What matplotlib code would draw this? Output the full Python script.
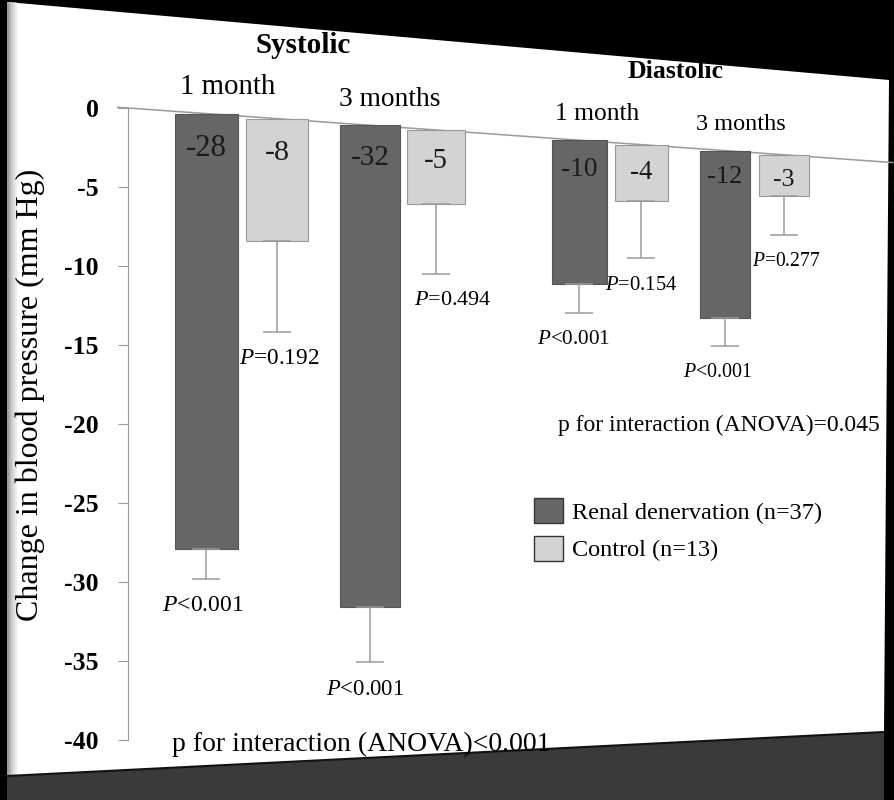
import matplotlib
matplotlib.use("Agg")
import matplotlib.pyplot as plt
from matplotlib.patches import Polygon, Patch
import numpy as np

# ---- data ----
groups = ["1 month", "3 months", "1 month", "3 months"]
sections = ["Systolic", "Diastolic"]
renal = [-28, -32, -10, -12]
renal_err = [1.9, 3.7, 2.0, 2.0]
control = [-8, -5, -4, -3]
control_err = [5.9, 4.7, 4.0, 2.8]
renal_p = ["$P$<0.001", "$P$<0.001", "$P$<0.001", "$P$<0.001"]
control_p = ["$P$=0.192", "$P$=0.494", "$P$=0.154", "$P$=0.277"]
renal_labels = ["-28", "-32", "-10", "-12"]
control_labels = ["-8", "-5", "-4", "-3"]
interaction = ["p for interaction (ANOVA)<0.001", "p for interaction (ANOVA)=0.045"]
legend_labels = ["Renal denervation (n=37)", "Control (n=13)"]
yticks = [0, -5, -10, -15, -20, -25, -30, -35, -40]

plt.rcParams['font.family'] = ['Liberation Serif', 'DejaVu Serif']
plt.rcParams['mathtext.fontset'] = 'custom'
plt.rcParams['mathtext.it'] = 'Liberation Serif:italic'
plt.rcParams['mathtext.rm'] = 'Liberation Serif'

W, H = 895, 800
fig = plt.figure(figsize=(W / 100, H / 100), dpi=100, facecolor='black')

def fp(x, y):
    return (x / W, 1 - y / H)

# photographed panel (perspective look)
fig.add_artist(Polygon([fp(7, 2), fp(889, 80), fp(884, 732), fp(7, 776)], closed=True,
                       transform=fig.transFigure, facecolor='white', edgecolor='none', zorder=-3))
bevel = ['#9a9a9a', '#b4b4b4', '#cccccc', '#dedede', '#ececec']
for k, c in enumerate(bevel):
    x0, x1 = 7 + 2 * k, 9 + 2 * k
    fig.add_artist(Polygon([fp(x0, 2), fp(x1, 3), fp(x1, 775), fp(x0, 776)], closed=True,
                           transform=fig.transFigure, facecolor=c, edgecolor='none', zorder=-2))
fig.add_artist(Polygon([fp(7, 776), fp(884, 732), fp(884, 800), fp(7, 800)], closed=True,
                       transform=fig.transFigure, facecolor='#3a3a3a', edgecolor='none', zorder=-2))
fig.add_artist(plt.Line2D([7 / W, 884 / W], [1 - 776 / H, 1 - 732 / H], transform=fig.transFigure,
                          color='#111111', lw=1.5, zorder=-1))

ax = fig.add_axes([128 / W, 1 - 740 / H, (886 - 128) / W, (740 - 108) / H])
ax.set_facecolor('none')

# ---- layout (perspective helpers) ----
group_x = np.array([0.0, 2.41, 5.49, 7.63])
ctrl_off = np.array([1.04, 0.97, 0.91, 0.87])
rx = group_x
cx = group_x + ctrl_off

def tilt(x):
    return -0.307 * (np.asarray(x) + 1.15)

def depth(x):
    return 1 - 0.0134 * (np.asarray(x) + 1.15)

def bwidth(x):
    return 0.93 * (1 - 0.026 * np.asarray(x))

def fsize(x, base, k):
    return base - k * (x + 1.15)

renal_v = np.array(renal, float)
control_v = np.array(control, float)
ekw = dict(ecolor='#9a9a9a', capsize=10, elinewidth=1.1, capthick=1.1)
ax.bar(rx, renal_v * depth(rx), bottom=tilt(rx), width=bwidth(rx), color='#666666',
       edgecolor='#555555', linewidth=0.8,
       yerr=[np.array(renal_err) * depth(rx), np.zeros(4)], error_kw=ekw)
ax.bar(cx, control_v * depth(cx), bottom=tilt(cx), width=bwidth(cx), color='#d3d3d3',
       edgecolor='#999999', linewidth=0.8,
       yerr=[np.array(control_err) * depth(cx), np.zeros(4)], error_kw=ekw)

# zero line
zx = np.array([-1.3, 10.1])
ax.plot(zx, tilt(zx), color='#999999', lw=1.1, clip_on=False, zorder=0.5)

p_dx_r = [-0.05, -0.07, -0.08, -0.1]
p_dx_c = [0.04, 0.24, 0.0, 0.03]
for i in range(4):
    for x, v, lab in ((rx[i], renal_v[i], renal_labels[i]), (cx[i], control_v[i], control_labels[i])):
        off = 2.3 - 0.07 * (x + 1.15)
        ax.text(x, tilt(x) - off, lab, ha='center', va='center',
                fontsize=fsize(x, 22.5, 0.4), color='#1a1a1a')
    yr = tilt(rx[i]) + (renal_v[i] - renal_err[i]) * depth(rx[i]) - 1.7
    ax.text(rx[i] + p_dx_r[i], yr, renal_p[i], ha='center', va='center', fontsize=fsize(rx[i], 17.5, 0.35))
    yc = tilt(cx[i]) + (control_v[i] - control_err[i]) * depth(cx[i]) - 1.7
    ax.text(cx[i] + p_dx_c[i], yc, control_p[i], ha='center', va='center', fontsize=fsize(cx[i], 17.5, 0.35))
    gx = (rx[i] + cx[i]) / 2 - 0.2
    ax.text(gx, tilt(gx) + 1.75, groups[i], ha='center', va='center',
            fontsize=fsize(gx, 21.5, 0.45), clip_on=False)

sx = [1.43, 6.9]
for j in range(2):
    ax.text(sx[j], tilt(sx[j]) + 4.75, sections[j], ha='center', va='center',
            fontsize=[21, 18.5][j], fontweight='bold', clip_on=False)

ax.text(-0.51, -40.3, interaction[0], ha='left', va='center', fontsize=20, clip_on=False)
ax.text(5.18, -20.06, interaction[1], ha='left', va='center', fontsize=17, clip_on=False)

ax.set_xlim(-1.15, 10.0)
ax.set_ylim(-40, 0)
ax.set_yticks(yticks)
ax.set_yticklabels([str(t) for t in yticks], fontweight='bold', fontsize=18.5)
ax.tick_params(axis='y', direction='out', length=7, color='#999999', pad=14)
ax.set_xticks([])
for s in ['top', 'right', 'bottom']:
    ax.spines[s].set_visible(False)
ax.spines['left'].set_color('#999999')
ax.spines['left'].set_bounds(-40, 0)
ax.set_ylabel("Change in blood pressure (mm Hg)", fontsize=23)
ax.yaxis.set_label_coords(-0.1095, 0.546)

handles = [Patch(facecolor='#666666', edgecolor='#333333'), Patch(facecolor='#d3d3d3', edgecolor='#333333')]
fig.legend(handles, legend_labels, loc='upper left', bbox_to_anchor=fp(534, 498),
           frameon=False, fontsize=17.5, handlelength=1.2, handleheight=1.2,
           handletextpad=0.35, labelspacing=0.5, borderpad=0, borderaxespad=0)

fig.savefig("out.png", dpi=100, facecolor='black')
